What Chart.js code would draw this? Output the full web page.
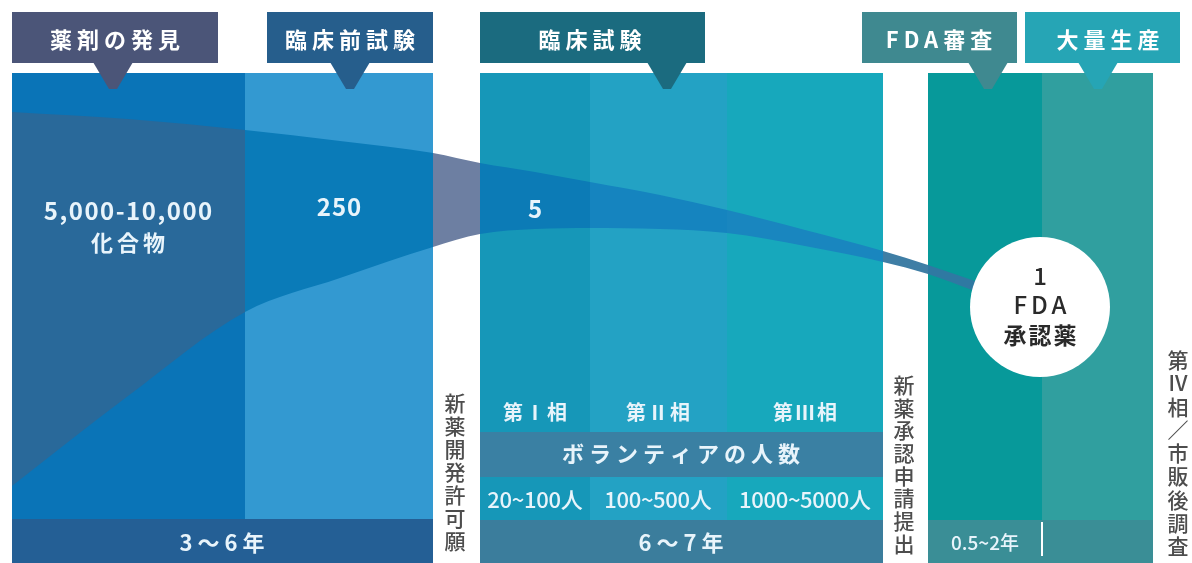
<!DOCTYPE html>
<html>
<head>
<meta charset="utf-8">
<script src="https://cdn.jsdelivr.net/npm/chart.js@4.4.1/dist/chart.umd.min.js"></script>
<style>
html, body { margin: 0; padding: 0; background: #fff; overflow: hidden; }
canvas { display: block; }
</style>
</head>
<body>
<canvas id="pipeline" width="1192" height="563"></canvas>
<script>
// --- content ---
const stages = ["薬剤の発見", "臨床前試験", "臨床試験", "FDA審査", "大量生産"];
const compounds = ["5,000-10,000", "250", "5", "1"];
const compoundNote = "化合物";
const approvedNote = ["FDA", "承認薬"];
const phases = ["第Ⅰ相", "第Ⅱ相", "第Ⅲ相"];
const volunteerTitle = "ボランティアの人数";
const volunteers = ["20~100人", "100~500人", "1000~5000人"];
const durations = ["3～6年", "6～7年", "0.5~2年"];
const milestones = ["新薬開発許可願", "新薬承認申請提出", "第Ⅳ相／市販後調査"];

// funnel edges (design units, y grows downward)
const funnelTop = [
    {x: 12, y: 112}, {x: 128, y: 119}, {x: 245, y: 130}, {x: 340, y: 141},
    {x: 433, y: 153}, {x: 480, y: 163}, {x: 535, y: 172}, {x: 590, y: 182},
    {x: 660, y: 195}, {x: 727, y: 210}, {x: 805, y: 230}, {x: 883, y: 251},
    {x: 928, y: 265}, {x: 975, y: 281}
];
const funnelBottom = [
    {x: 12, y: 486}, {x: 128, y: 396}, {x: 245, y: 312}, {x: 340, y: 278},
    {x: 433, y: 247}, {x: 480, y: 234}, {x: 535, y: 229}, {x: 590, y: 228},
    {x: 660, y: 229}, {x: 727, y: 233}, {x: 805, y: 246}, {x: 883, y: 262},
    {x: 928, y: 274}, {x: 975, y: 291}
];

// --- layout (design units of the 1192x563 picture) ---
const columns = [[12, 245], [245, 433], [480, 590], [590, 727], [727, 883], [928, 1042], [1042, 1153]];
const columnColors = ["#0a74b7", "#3399d1", "#1697b8", "#23a2c4", "#17a8bc", "#07999a", "#309f9f"];
const funnelEdges = [12, 245, 433, 480, 590, 727, 883, 928, 975];
const funnelColors = ["#29699a", "#0a7bb8", "#6d7fa2", "#0c7bb6", "#1584bf", "#1986bf", "#3f7ea5", "#2f79a2"];
const headers = [[12, 218, 113], [267, 433, 350], [480, 705, 667], [862, 1017, 988], [1025, 1180, 1098]];
const headerColors = ["#4b5578", "#265e8c", "#1b6b7f", "#3f8990", "#26a5b5"];

const JP = '"Noto Sans CJK JP", "Noto Sans", sans-serif';

function funnelColorAt(x) {
    for (let i = funnelEdges.length - 2; i >= 0; i--) {
        if (x >= funnelEdges[i] - 0.01) return funnelColors[i];
    }
    return funnelColors[0];
}

const layoutPlugin = {
    id: "layout",
    beforeDatasetsDraw(chart) {
        const {ctx, scales: {x, y}} = chart;
        ctx.save();
        columns.forEach((c, i) => {
            ctx.fillStyle = columnColors[i];
            ctx.fillRect(x.getPixelForValue(c[0]), y.getPixelForValue(73),
                x.getPixelForValue(c[1]) - x.getPixelForValue(c[0]), y.getPixelForValue(563) - y.getPixelForValue(73));
        });
        ctx.restore();
    },
    afterDatasetsDraw(chart) {
        const {ctx, scales: {x, y}} = chart;
        const px = v => x.getPixelForValue(v);
        const py = v => y.getPixelForValue(v);

        function box(x0, y0, x1, y1, color) {
            ctx.fillStyle = color;
            ctx.fillRect(px(x0), py(y0), px(x1) - px(x0), py(y1) - py(y0));
        }
        function text(str, cx, cy, size, color, opts) {
            opts = opts || {};
            ctx.font = (opts.weight || "bold") + " " + size + "px " + (opts.family || JP);
            ctx.fillStyle = color;
            ctx.textAlign = "center";
            ctx.textBaseline = "middle";
            const sp = opts.spacing || 0;
            if ("letterSpacing" in ctx) {
                ctx.letterSpacing = sp + "px";
                ctx.fillText(str, px(cx) + sp / 2, py(cy));
                ctx.letterSpacing = "0px";
            } else {
                ctx.fillText(str, px(cx), py(cy));
            }
        }
        function vtext(str, cx, cy0, step, size, color) {
            [...str].forEach((ch, i) => text(ch, cx, cy0 + i * step, size, color, {weight: "500"}));
        }

        ctx.save();

        // stage headers with pointers
        headers.forEach((h, i) => {
            box(h[0], 12, h[1], 63, headerColors[i]);
            ctx.fillStyle = headerColors[i];
            ctx.beginPath();
            ctx.moveTo(px(h[2] - 20), py(62));
            ctx.lineTo(px(h[2] + 20), py(62));
            ctx.lineTo(px(h[2] + 4), py(89));
            ctx.lineTo(px(h[2] - 4), py(89));
            ctx.closePath();
            ctx.fill();
        });
        const headerText = [115, 350, 590, 939, 1108];
        stages.forEach((s, i) => text(s, headerText[i], 40, 22, "#ffffff", {spacing: 5}));

        // compound counts
        const light = "#e8f4fb";
        text(compounds[0], 128, 211, 24, light, {spacing: 1.5});
        text(compoundNote, 128, 243, 22, light, {spacing: 4});
        text(compounds[1], 339, 207, 24, light, {spacing: 1});
        text(compounds[2], 535, 209, 24, light);

        // clinical trial rows
        const phaseCenters = [535, 658, 805];
        phases.forEach((p, i) => text(p, phaseCenters[i], 412, 20, light, {spacing: 2}));
        box(480, 432, 883, 477, "#3a80a3");
        text(volunteerTitle, 681, 454, 22, light, {spacing: 5});
        volunteers.forEach((v, i) => text(v, phaseCenters[i], 500, 22, light, {weight: "500", spacing: -0.3}));

        // duration bars
        box(12, 519, 433, 563, "#245f95");
        box(480, 520, 883, 563, "#3b7d9c");
        box(928, 520, 1153, 563, "#3a8e96");
        box(1041, 522, 1043, 556, "#ffffff");
        text(durations[0], 222, 543, 22, light, {spacing: 5});
        text(durations[1], 681, 543, 22, light, {spacing: 5});
        text(durations[2], 985, 543, 19, light, {weight: "500"});

        // milestones (vertical)
        vtext(milestones[0], 455, 403, 23, 21, "#4d4d4d");
        vtext(milestones[1], 904, 385, 22.7, 21, "#4d4d4d");
        vtext(milestones[2], 1178, 360, 23.3, 21, "#4d4d4d");

        // approved drug bubble
        ctx.fillStyle = "#ffffff";
        ctx.beginPath();
        ctx.arc(px(1040), py(307), px(1110) - px(1040), 0, Math.PI * 2);
        ctx.fill();
        text(compounds[3], 1040, 276, 24, "#2a2a2a", {weight: "500"});
        text(approvedNote[0], 1040, 305, 24, "#2a2a2a", {weight: "500", spacing: 4});
        text(approvedNote[1], 1040, 335, 23, "#2a2a2a", {spacing: 2});

        ctx.restore();
    }
};

new Chart(document.getElementById("pipeline"), {
    type: "line",
    data: {
        datasets: [
            {
                label: "funnel top",
                data: funnelTop,
                fill: "+1",
                borderWidth: 0,
                pointRadius: 0,
                cubicInterpolationMode: "monotone",
                backgroundColor: funnelColors[0],
                segment: { backgroundColor: c => funnelColorAt(c.p0.parsed.x) }
            },
            {
                label: "funnel bottom",
                data: funnelBottom,
                fill: false,
                borderWidth: 0,
                pointRadius: 0,
                cubicInterpolationMode: "monotone"
            }
        ]
    },
    options: {
        responsive: false,
        animation: false,
        events: [],
        layout: { padding: 0 },
        scales: {
            x: { type: "linear", min: 0, max: 1192, display: false },
            y: { type: "linear", min: 0, max: 563, reverse: true, display: false }
        },
        plugins: {
            legend: { display: false },
            tooltip: { enabled: false }
        }
    },
    plugins: [layoutPlugin]
});
</script>
</body>
</html>
